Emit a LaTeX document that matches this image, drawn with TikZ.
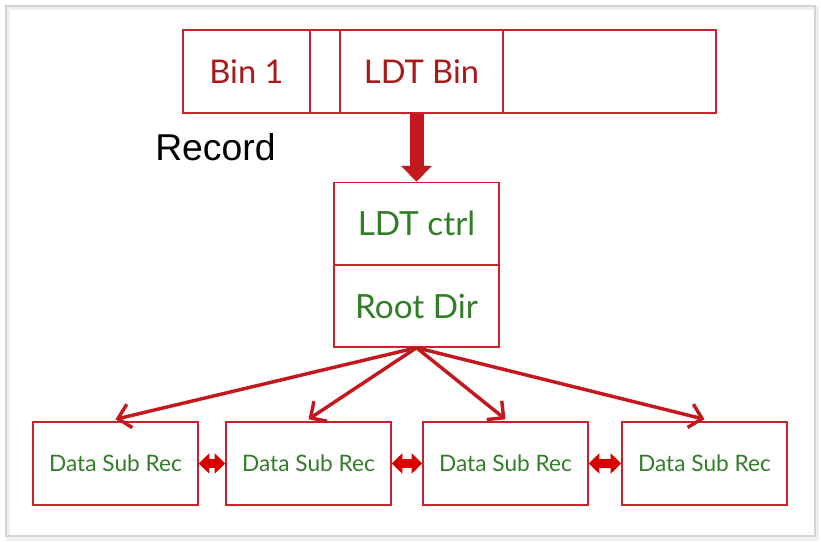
\documentclass[tikz,border=0pt]{standalone}
\usepackage{fontspec}
\setmainfont{Lato}
\newfontfamily\recfont{Liberation Sans}
\usepackage{tikz}
\usetikzlibrary{arrows.meta,positioning}

\definecolor{boxred}{RGB}{200,35,40}
\definecolor{textred}{RGB}{170,25,25}
\definecolor{textgreen}{RGB}{50,125,40}
\definecolor{arrowred}{RGB}{195,25,30}
\definecolor{framegray}{RGB}{212,212,212}

\begin{document}
\begin{tikzpicture}[x=0.75pt, y=-0.75pt, >=Stealth,
    cell/.style={draw=boxred, line width=1.1pt, minimum height=62.25pt, inner sep=0pt,
                 text=textred, font=\fontsize{24.5}{28}\selectfont},
    ctrlbox/.style={draw=boxred, line width=1.1pt, minimum width=123.75pt, minimum height=61.5pt,
                 inner sep=0pt, text=textgreen, font=\fontsize{25}{28}\selectfont},
    subrec/.style={draw=boxred, line width=1.1pt, minimum width=123.75pt, minimum height=62.25pt,
                 inner sep=0pt, text=textgreen, font=\fontsize{17}{20}\selectfont},
    fanout/.style={draw=arrowred, line width=2.6pt, -{Straight Barb[length=9pt, width=18pt]}},
    link/.style={draw=red!85!black, line width=7pt, {Triangle[width=15pt, length=8pt]}-{Triangle[width=15pt, length=8pt]}}]
    \useasboundingbox (0,0) rectangle (821,542);

    % The slide frame
    \draw[black!6, line width=3pt] (8,8) rectangle (817,539);
    \draw[framegray, line width=1.2pt] (6,6) rectangle (815,536);

    % The record
    \node[cell, minimum width=95.25pt] (bin1) at (246.5,71.5) {Bin 1};
    \node[cell, minimum width=22.5pt] (gap) at (325,71.5) {};
    \node[cell, minimum width=122.25pt] (ldtbin) at (421.5,71.5) {LDT Bin};
    \node[cell, minimum width=159.75pt] (rest) at (609.5,71.5) {};
    \node[font=\recfont\fontsize{28}{32}\selectfont, anchor=west, inner sep=0pt] (record) at (155,147) {Record};

    % LDT control and root directory
    \node[ctrlbox] (ctrl) at (416.5,223.5) {LDT ctrl};
    \node[ctrlbox] (root) at (416.5,306) {Root Dir};
    \draw[arrowred, line width=10.5pt, -{Triangle[width=22.5pt, length=12pt]}]
        (ctrl.north |- ldtbin.south) -- (ctrl.north);

    % Data sub records
    \node[subrec] (d1) at (115.5,463.5) {Data Sub Rec};
    \node[subrec] (d2) at (308.5,463.5) {Data Sub Rec};
    \node[subrec] (d3) at (505.5,463.5) {Data Sub Rec};
    \node[subrec] (d4) at (704.5,463.5) {Data Sub Rec};

    \foreach \d in {d1,d2,d3,d4}
        \draw[fanout] (root.south) -- ([yshift=1.5pt]\d.north);

    \draw[link] (d1.east) -- (d2.west);
    \draw[link] (d2.east) -- (d3.west);
    \draw[link] (d3.east) -- (d4.west);
\end{tikzpicture}
\end{document}
